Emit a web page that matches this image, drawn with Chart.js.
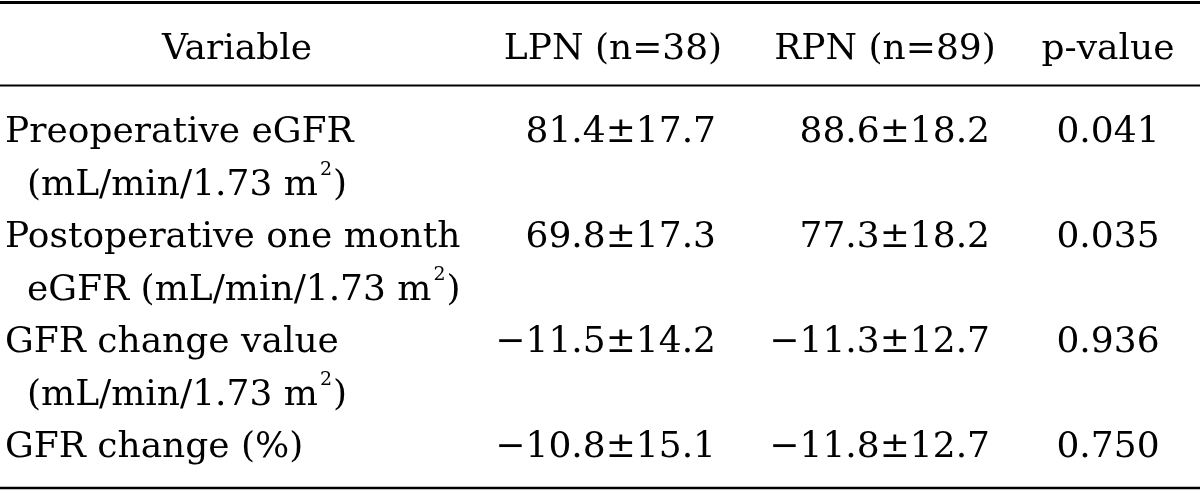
<!DOCTYPE html>
<html>
<head>
<meta charset="utf-8">
<script src="https://cdn.jsdelivr.net/npm/chart.js@4/dist/chart.umd.min.js"></script>
<style>
  html, body { margin: 0; padding: 0; background: #fff; }
  #wrap { width: 1200px; height: 493px; }
</style>
</head>
<body>
<div id="wrap"><canvas id="tbl" width="1200" height="493"></canvas></div>
<script>
// ── 표 데이터 ─────────────────────────────────────────────
const headers   = ["Variable", "LPN (n=38)", "RPN (n=89)", "p-value"];
const variables = [
  ["Preoperative eGFR", "(mL/min/1.73 m^2)"],
  ["Postoperative one month", "eGFR (mL/min/1.73 m^2)"],
  ["GFR change value", "(mL/min/1.73 m^2)"],
  ["GFR change (%)"],
];
const lpnMean = [81.4, 69.8, -11.5, -10.8];
const lpnSd   = [17.7, 17.3, 14.2, 15.1];
const rpnMean = [88.6, 77.3, -11.3, -11.8];
const rpnSd   = [18.2, 18.2, 12.7, 12.7];
const pValues = [0.041, 0.035, 0.936, 0.750];

// ── 배치 (축 단위 = 픽셀) ─────────────────────────────────
const COL_X   = [5, 716, 990, 1108];     // 변수(왼쪽), LPN/RPN(오른쪽 정렬), p(가운데)
const HEAD_X  = [237, 613, 885, 1108];
const INDENT  = 22;
const HEAD_Y  = 59;
const ROW_Y   = [142, 247, 352, 457];   // 각 행 첫 줄 기준선
const LINE_H  = 52.5;
const RULES   = [{ y: 2.5, w: 3 }, { y: 85.5, w: 2 }, { y: 488, w: 2.5 }];
const FONT    = "36px 'DejaVu Serif'";
const SUP     = "19px 'DejaVu Serif'";

const fmtNum = v => (v < 0 ? "\u2212" : "") + Math.abs(v).toFixed(1);
const cells = {
  lpn: lpnMean.map((m, i) => fmtNum(m) + "±" + lpnSd[i].toFixed(1)),
  rpn: rpnMean.map((m, i) => fmtNum(m) + "±" + rpnSd[i].toFixed(1)),
  p:   pValues.map(v => v.toFixed(3)),
};

const colData = x => ROW_Y.map(y => ({ x, y }));

// "m^2" 형태의 위첨자 처리
function drawRich(ctx, text, x, y) {
  const parts = text.split(/\^(\d)/);
  let cx = x;
  parts.forEach((p, i) => {
    const sup = i % 2 === 1;
    ctx.font = sup ? SUP : FONT;
    ctx.fillText(p, sup ? cx + 2 : cx, sup ? y - 20 : y);
    cx += ctx.measureText(p).width + (sup ? 3 : 0);
  });
  ctx.font = FONT;
}

// ── 표 그리기 플러그인 ────────────────────────────────────
const tablePlugin = {
  id: "tablePlugin",
  afterDatasetsDraw(chart) {
    const { ctx, scales: { x, y } } = chart;
    ctx.save();
    ctx.fillStyle = "#000";
    ctx.strokeStyle = "#000";

    // 가로 줄
    RULES.forEach(r => {
      ctx.lineWidth = r.w;
      ctx.beginPath();
      ctx.moveTo(x.getPixelForValue(0), y.getPixelForValue(r.y));
      ctx.lineTo(x.getPixelForValue(1200), y.getPixelForValue(r.y));
      ctx.stroke();
    });

    ctx.font = FONT;
    ctx.textBaseline = "alphabetic";

    // 머리글
    ctx.textAlign = "center";
    headers.forEach((h, i) => {
      ctx.fillText(h, x.getPixelForValue(HEAD_X[i]), y.getPixelForValue(HEAD_Y));
    });

    // 본문: 각 데이터셋의 점 위치에 글자
    const texts = [null, cells.lpn, cells.rpn, cells.p];
    const aligns = ["left", "right", "right", "center"];
    const lineH = y.getPixelForValue(LINE_H) - y.getPixelForValue(0);
    chart.data.datasets.forEach((ds, c) => {
      const meta = chart.getDatasetMeta(c);
      ctx.textAlign = aligns[c];
      meta.data.forEach((pt, i) => {
        if (c === 0) {
          variables[i].forEach((line, k) => {
            drawRich(ctx, line, pt.x + (k ? INDENT : 0), pt.y + k * lineH);
          });
        } else {
          ctx.fillText(texts[c][i], pt.x, pt.y);
        }
      });
    });
    ctx.restore();
  },
};

new Chart(document.getElementById("tbl"), {
  type: "scatter",
  data: {
    datasets: COL_X.map((cx, c) => ({
      label: headers[c],
      data: colData(cx),
      pointRadius: 0,
      pointHoverRadius: 0,
    })),
  },
  options: {
    responsive: false,
    animation: false,
    events: [],
    layout: { padding: 0 },
    plugins: { legend: { display: false }, tooltip: { enabled: false } },
    scales: {
      x: { type: "linear", min: 0, max: 1200, display: false },
      y: { type: "linear", min: 0, max: 493, reverse: true, display: false },
    },
  },
  plugins: [tablePlugin],
});
</script>
</body>
</html>
